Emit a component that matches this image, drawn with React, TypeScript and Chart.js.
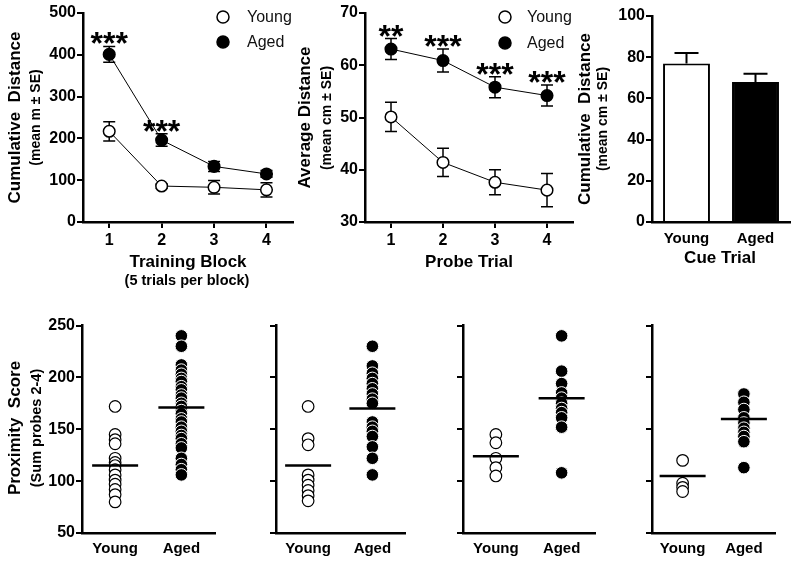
import React, { useEffect, useRef } from 'react';
import { Chart, registerables } from 'chart.js';

Chart.register(...registerables);

const FONT = "Arial, 'Liberation Sans', Helvetica, sans-serif";

// ---------- Panel A: training blocks ----------
const blockLabels = ['1', '2', '3', '4'];
const youngBlock = [217, 86, 83, 77];
const youngBlockSE = [23, 5, 16, 17];
const agedBlock = [401, 196, 133, 115];
const agedBlockSE = [19, 15, 12, 8];
const blockStars = ['***', '***', '', ''];
const blockYTicks = [0, 100, 200, 300, 400, 500];

// ---------- Panel B: probe trials ----------
const probeLabels = ['1', '2', '3', '4'];
const youngProbe = [50.1, 41.4, 37.6, 36.1];
const youngProbeSE = [2.8, 2.7, 2.4, 3.2];
const agedProbe = [63.1, 60.9, 55.8, 54.2];
const agedProbeSE = [2.0, 2.2, 2.0, 2.0];
const probeStars = ['**', '***', '***', '***'];
const probeYTicks = [30, 40, 50, 60, 70];

// ---------- Panel C: cue trial ----------
const groupLabels = ['Young', 'Aged'];
const cueMeans = [77, 68];
const cueSE = [5, 4];
const cueYTicks = [0, 20, 40, 60, 80, 100];

// ---------- Panels D-G: proximity scores ----------
const proxYTicks = [50, 100, 150, 200, 250];
const prox1Young = [172, 145, 140, 136, 122, 118, 115, 111, 106, 101, 97, 92, 87, 80];
const prox1Aged = [240, 230, 212, 207, 203, 199, 196, 191, 188, 183, 180, 175, 172, 168, 165, 160, 157, 152, 148, 144, 141, 136, 132, 122, 116, 111, 106];
const prox1Means = [115, 171];
const prox2Young = [172, 141, 135, 106, 101, 96, 91, 86, 81];
const prox2Aged = [230, 211, 204, 199, 194, 189, 184, 179, 175, 157, 152, 148, 143, 133, 122, 106];
const prox2Means = [115, 170];
const prox3Young = [145, 137, 122, 113, 105];
const prox3Aged = [240, 206, 194, 185, 180, 175, 170, 166, 161, 152, 108];
const prox3Means = [124, 180];
const prox4Young = [120, 98, 94, 90];
const prox4Aged = [184, 176, 169, 161, 156, 151, 147, 143, 138, 113];
const prox4Means = [105, 160];

type Box = { x0: number; y0: number; x1: number; y1: number };
type Area = { l: number; t: number; r: number; b: number };
type TextItem = { text: string; x: number; y: number; font: string; rot?: boolean; align?: CanvasTextAlign };
type LegendItem = { cx: number; cy: number; tx: number; filled: boolean; label: string };

const numFont = { family: FONT, size: 16, weight: 'bold' as const };
const catFont = { family: FONT, size: 15, weight: 'bold' as const };

function yScale(area: Area, box: Box, ticks: number[], showLabels: boolean) {
  return {
    min: ticks[0],
    max: ticks[ticks.length - 1],
    afterBuildTicks: (s: any) => {
      s.ticks = ticks.map((v) => ({ value: v }));
    },
    ticks: {
      font: numFont,
      color: '#000',
      padding: 1,
      ...(showLabels ? {} : { callback: () => '' }),
    },
    grid: { drawOnChartArea: false, color: '#000', lineWidth: 2, tickLength: 6 },
    border: { color: '#000', width: 2.5 },
    afterFit: (s: any) => {
      s.width = area.l - box.x0;
    },
  };
}

function xScale(area: Area, box: Box, tickMarks: boolean, pad: number, font: any) {
  return {
    type: 'category' as const,
    offset: true,
    grid: {
      drawOnChartArea: false,
      drawTicks: tickMarks,
      offset: false,
      color: '#000',
      lineWidth: 2,
      tickLength: 6,
    },
    border: { color: '#000', width: 2.5 },
    ticks: { font, color: '#000', padding: pad, maxRotation: 0, autoSkip: false },
    afterFit: (s: any) => {
      s.height = box.y1 - area.b;
    },
  };
}

function layoutPadding(area: Area, box: Box) {
  return { left: 0, bottom: 0, top: area.t - box.y0, right: box.x1 - area.r };
}

function textPlugin(box: Box, items: TextItem[]) {
  return {
    id: 'texts',
    afterDraw(chart: any) {
      const ctx = chart.ctx as CanvasRenderingContext2D;
      for (const it of items) {
        ctx.save();
        ctx.font = it.font;
        ctx.fillStyle = '#000';
        ctx.textAlign = it.align || 'center';
        ctx.textBaseline = 'middle';
        ctx.translate(it.x - box.x0, it.y - box.y0);
        if (it.rot) ctx.rotate(-Math.PI / 2);
        ctx.fillText(it.text, 0, 0);
        ctx.restore();
      }
    },
  };
}

function legendPlugin(box: Box, items: LegendItem[]) {
  return {
    id: 'legendDots',
    afterDraw(chart: any) {
      const ctx = chart.ctx as CanvasRenderingContext2D;
      for (const it of items) {
        ctx.save();
        ctx.beginPath();
        ctx.arc(it.cx - box.x0, it.cy - box.y0, 6, 0, Math.PI * 2);
        ctx.fillStyle = it.filled ? '#000' : '#fff';
        ctx.fill();
        ctx.lineWidth = 1.5;
        ctx.strokeStyle = '#000';
        ctx.stroke();
        ctx.font = `16px ${FONT}`;
        ctx.fillStyle = '#111';
        ctx.textAlign = 'left';
        ctx.textBaseline = 'middle';
        ctx.fillText(it.label, it.tx - box.x0, it.cy - box.y0 + 1);
        ctx.restore();
      }
    },
  };
}

function errorPlugin(seSets: number[][], capHalf: number, lineWidth: number, upOnly: boolean) {
  return {
    id: 'errBars',
    beforeDatasetsDraw(chart: any) {
      const ctx = chart.ctx as CanvasRenderingContext2D;
      const ys = chart.scales.y;
      ctx.save();
      ctx.strokeStyle = '#000';
      ctx.lineWidth = lineWidth;
      seSets.forEach((se, d) => {
        const meta = chart.getDatasetMeta(d);
        const vals = chart.data.datasets[d].data as number[];
        meta.data.forEach((el: any, i: number) => {
          const x = el.x;
          const top = ys.getPixelForValue(vals[i] + se[i]);
          const bot = upOnly ? ys.getPixelForValue(vals[i]) : ys.getPixelForValue(vals[i] - se[i]);
          ctx.beginPath();
          ctx.moveTo(x, top);
          ctx.lineTo(x, bot);
          ctx.moveTo(x - capHalf, top);
          ctx.lineTo(x + capHalf, top);
          if (!upOnly) {
            ctx.moveTo(x - capHalf, bot);
            ctx.lineTo(x + capHalf, bot);
          }
          ctx.stroke();
        });
      });
      ctx.restore();
    },
  };
}

function starPlugin(stars: string[], vals: number[], se: number[]) {
  return {
    id: 'stars',
    afterDatasetsDraw(chart: any) {
      const ctx = chart.ctx as CanvasRenderingContext2D;
      const xs = chart.scales.x;
      const ys = chart.scales.y;
      ctx.save();
      ctx.font = `bold 32px ${FONT}`;
      ctx.fillStyle = '#000';
      ctx.textAlign = 'center';
      ctx.textBaseline = 'alphabetic';
      stars.forEach((s, i) => {
        if (!s) return;
        const x = xs.getPixelForValue(i);
        const yc = ys.getPixelForValue(vals[i] + se[i]) - 9;
        ctx.fillText(s, x, yc + 17);
      });
      ctx.restore();
    },
  };
}

function lineConfig(
  box: Box,
  area: Area,
  labels: string[],
  young: number[],
  youngSE: number[],
  aged: number[],
  agedSE: number[],
  stars: string[],
  yTicks: number[],
  texts: TextItem[],
  legend: LegendItem[]
) {
  return {
    type: 'line' as const,
    data: {
      labels,
      datasets: [
        {
          label: 'Young',
          data: young,
          borderColor: '#000',
          borderWidth: 1,
          pointRadius: 5.8,
          pointBackgroundColor: '#fff',
          pointBorderColor: '#000',
          pointBorderWidth: 1.5,
        },
        {
          label: 'Aged',
          data: aged,
          borderColor: '#000',
          borderWidth: 1,
          pointRadius: 5.8,
          pointBackgroundColor: '#000',
          pointBorderColor: '#000',
          pointBorderWidth: 1.5,
        },
      ],
    },
    options: {
      responsive: false,
      animation: false as const,
      events: [],
      layout: { padding: layoutPadding(area, box) },
      plugins: { legend: { display: false }, tooltip: { enabled: false } },
      scales: {
        x: xScale(area, box, true, 3, numFont),
        y: yScale(area, box, yTicks, true),
      },
    },
    plugins: [
      errorPlugin([youngSE, agedSE], 6, 1.5, false),
      starPlugin(stars, aged, agedSE),
      textPlugin(box, texts),
      legendPlugin(box, legend),
    ],
  };
}

function barConfig(box: Box, area: Area, texts: TextItem[]) {
  return {
    type: 'bar' as const,
    data: {
      labels: groupLabels,
      datasets: [
        {
          data: cueMeans,
          backgroundColor: ['#fff', '#000'],
          borderColor: '#000',
          borderWidth: 2,
          barPercentage: 0.68,
          categoryPercentage: 1,
        },
      ],
    },
    options: {
      responsive: false,
      animation: false as const,
      events: [],
      layout: { padding: layoutPadding(area, box) },
      plugins: { legend: { display: false }, tooltip: { enabled: false } },
      scales: {
        x: xScale(area, box, false, 8, catFont),
        y: yScale(area, box, cueYTicks, true),
      },
    },
    plugins: [errorPlugin([cueSE], 12, 2, true), textPlugin(box, texts)],
  };
}

function dotConfig(box: Box, area: Area, young: number[], aged: number[], means: number[], showLabels: boolean, texts: TextItem[]) {
  return {
    type: 'line' as const,
    data: {
      labels: groupLabels,
      datasets: [
        {
          data: groupLabels.map((g, i) => ({ x: g, y: means[i] })),
          showLine: false,
          pointStyle: 'line' as const,
          pointRadius: 23,
          pointBorderWidth: 2.5,
          pointBorderColor: '#000',
          borderColor: '#000',
          order: 0,
        },
        {
          data: young.map((v) => ({ x: 'Young', y: v })),
          showLine: false,
          pointRadius: 5.8,
          pointBackgroundColor: '#fff',
          pointBorderColor: '#000',
          pointBorderWidth: 1.2,
          order: 1,
        },
        {
          data: aged.map((v) => ({ x: 'Aged', y: v })),
          showLine: false,
          pointRadius: 6.3,
          pointBackgroundColor: '#000',
          pointBorderColor: '#fff',
          pointBorderWidth: 1,
          order: 1,
        },
      ],
    },
    options: {
      responsive: false,
      animation: false as const,
      events: [],
      layout: { padding: layoutPadding(area, box) },
      plugins: { legend: { display: false }, tooltip: { enabled: false } },
      scales: {
        x: xScale(area, box, false, 7, catFont),
        y: yScale(area, box, proxYTicks, showLabels),
      },
    },
    plugins: [textPlugin(box, texts)],
  };
}

function ChartPanel({ box, make }: { box: Box; make: () => any }) {
  const ref = useRef<HTMLCanvasElement>(null);
  useEffect(() => {
    const chart = new Chart(ref.current as HTMLCanvasElement, make());
    return () => chart.destroy();
  }, []);
  const w = box.x1 - box.x0;
  const h = box.y1 - box.y0;
  return (
    <canvas
      ref={ref}
      width={w}
      height={h}
      style={{ position: 'absolute', left: box.x0, top: box.y0, width: w, height: h }}
    />
  );
}

const titleFont = `bold 17px ${FONT}`;
const subFont = `bold 14px ${FONT}`;

// layout boxes
const boxA: Box = { x0: 0, y0: 0, x1: 300, y1: 300 };
const areaA: Area = { l: 83, t: 13, r: 294, b: 222 };
const boxB: Box = { x0: 285, y0: 0, x1: 582, y1: 300 };
const areaB: Area = { l: 365, t: 13, r: 573, b: 222 };
const boxC: Box = { x0: 575, y0: 0, x1: 800, y1: 300 };
const areaC: Area = { l: 652, t: 16, r: 790, b: 222 };
const boxD: Box = { x0: 0, y0: 300, x1: 240, y1: 564 };
const areaD: Area = { l: 82, t: 323, r: 223, b: 533 };
const boxE: Box = { x0: 240, y0: 300, x1: 430, y1: 564 };
const areaE: Area = { l: 276, t: 323, r: 417, b: 533 };
const boxF: Box = { x0: 430, y0: 300, x1: 620, y1: 564 };
const areaF: Area = { l: 463, t: 323, r: 605, b: 533 };
const boxG: Box = { x0: 620, y0: 300, x1: 800, y1: 564 };
const areaG: Area = { l: 652, t: 323, r: 793, b: 533 };

export default function App() {
  return (
    <div style={{ position: 'absolute', left: 0, top: 0, width: 800, height: 564, background: '#fff', overflow: 'hidden' }}>
      <ChartPanel
        box={boxA}
        make={() =>
          lineConfig(
            boxA,
            areaA,
            blockLabels,
            youngBlock,
            youngBlockSE,
            agedBlock,
            agedBlockSE,
            blockStars,
            blockYTicks,
            [
              { text: 'Cumulative  Distance', x: 15, y: 117.5, font: titleFont, rot: true },
              { text: '(mean m ± SE)', x: 36, y: 117.5, font: subFont, rot: true },
              { text: 'Training Block', x: 188, y: 262, font: titleFont },
              { text: '(5 trials per block)', x: 187, y: 281, font: `bold 14.5px ${FONT}` },
            ],
            [
              { cx: 223, cy: 17, tx: 247, filled: false, label: 'Young' },
              { cx: 223, cy: 42, tx: 247, filled: true, label: 'Aged' },
            ]
          )
        }
      />
      <ChartPanel
        box={boxB}
        make={() =>
          lineConfig(
            boxB,
            areaB,
            probeLabels,
            youngProbe,
            youngProbeSE,
            agedProbe,
            agedProbeSE,
            probeStars,
            probeYTicks,
            [
              { text: 'Average Distance', x: 305, y: 117.5, font: titleFont, rot: true },
              { text: '(mean cm ± SE)', x: 327, y: 118, font: subFont, rot: true },
              { text: 'Probe Trial', x: 469, y: 262, font: titleFont },
            ],
            [
              { cx: 505, cy: 17, tx: 527, filled: false, label: 'Young' },
              { cx: 505, cy: 43, tx: 527, filled: true, label: 'Aged' },
            ]
          )
        }
      />
      <ChartPanel
        box={boxC}
        make={() =>
          barConfig(boxC, areaC, [
            { text: 'Cumulative  Distance', x: 585, y: 119, font: titleFont, rot: true },
            { text: '(mean cm ± SE)', x: 603, y: 119, font: subFont, rot: true },
            { text: 'Cue Trial', x: 720, y: 258, font: titleFont },
          ])
        }
      />
      <ChartPanel
        box={boxD}
        make={() =>
          dotConfig(boxD, areaD, prox1Young, prox1Aged, prox1Means, true, [
            { text: 'Proximity  Score', x: 15, y: 428, font: titleFont, rot: true },
            { text: '(Sum probes 2-4)', x: 37, y: 428, font: `bold 14.5px ${FONT}`, rot: true },
          ])
        }
      />
      <ChartPanel box={boxE} make={() => dotConfig(boxE, areaE, prox2Young, prox2Aged, prox2Means, false, [])} />
      <ChartPanel box={boxF} make={() => dotConfig(boxF, areaF, prox3Young, prox3Aged, prox3Means, false, [])} />
      <ChartPanel box={boxG} make={() => dotConfig(boxG, areaG, prox4Young, prox4Aged, prox4Means, false, [])} />
    </div>
  );
}
